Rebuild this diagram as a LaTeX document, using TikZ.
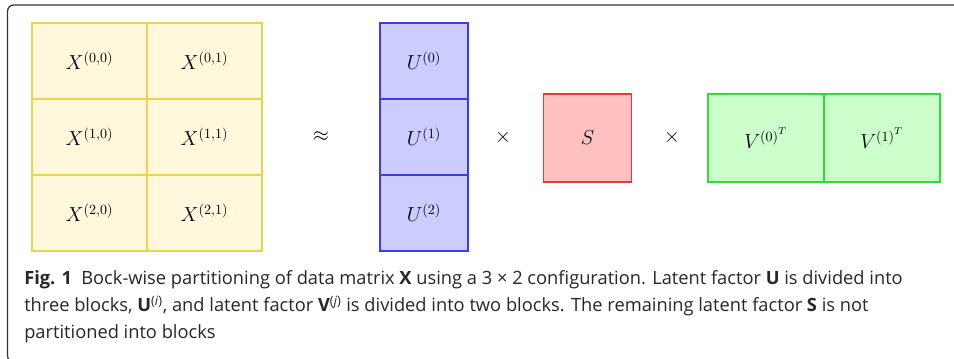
\documentclass[tikz,border=0pt]{standalone}
\usepackage{xcolor}
\definecolor{xfill}{RGB}{255,248,220}
\definecolor{xline}{RGB}{232,212,80}
\definecolor{ufill}{RGB}{204,204,255}
\definecolor{uline}{RGB}{60,60,230}
\definecolor{sfill}{RGB}{255,192,192}
\definecolor{sline}{RGB}{225,60,60}
\definecolor{vfill}{RGB}{204,255,204}
\definecolor{vline}{RGB}{50,220,50}
\definecolor{framegray}{RGB}{50,50,50}
\definecolor{captext}{RGB}{40,38,38}
\usepackage[no-math]{fontspec}
\newfontfamily\capfont{Open Sans}
\usepackage{tikz}
\usepackage{amsmath}

\begin{document}
\begin{tikzpicture}[every node/.style={font=\fontsize{14}{17}\selectfont},
  cell/.style={draw, line width=1.2pt, inner sep=0pt},
  xcell/.style={cell, draw=xline, fill=xfill, minimum width=2.875cm, minimum height=1.9cm},
  ucell/.style={cell, draw=uline, fill=ufill, minimum width=2.2cm, minimum height=1.9cm},
  scell/.style={cell, draw=sline, fill=sfill, minimum width=2.2cm, minimum height=2.2cm},
  vcell/.style={cell, draw=vline, fill=vfill, minimum width=2.9cm, minimum height=2.2cm},
  caption/.style={anchor=base west, text=captext, font=\capfont\fontsize{13}{15}\selectfont, inner sep=0pt}]
  \useasboundingbox (0,0) rectangle (23.85,8.95);

  % Figure frame
  \begin{scope}
    \clip (0,0) rectangle (23.85,8.95);
    \draw[line width=0.9pt, draw=framegray, rounded corners=0.15cm] (0.19,-0.1) rectangle (26,8.825);
  \end{scope}

  % Data matrix X
  \node[xcell] (x00) at (2.2375,7.425) {$X^{(0,0)}$};
  \node[xcell] (x01) at (5.1125,7.425) {$X^{(0,1)}$};
  \node[xcell] (x10) at (2.2375,5.525) {$X^{(1,0)}$};
  \node[xcell] (x11) at (5.1125,5.525) {$X^{(1,1)}$};
  \node[xcell] (x20) at (2.2375,3.625) {$X^{(2,0)}$};
  \node[xcell] (x21) at (5.1125,3.625) {$X^{(2,1)}$};

  \node (approx) at (8.025,5.525) {$\approx$};

  % Latent factor U
  \node[ucell] (u0) at (10.6,7.425) {$U^{(0)}$};
  \node[ucell] (u1) at (10.6,5.525) {$U^{(1)}$};
  \node[ucell] (u2) at (10.6,3.625) {$U^{(2)}$};

  \node (times1) at (12.575,5.525) {$\times$};

  % Latent factor S
  \node[scell] (s) at (14.69,5.5) {$S$};

  \node (times2) at (16.8,5.525) {$\times$};

  % Latent factor V
  \node[vcell] (v0) at (19.15,5.5) {$V^{{(0)}^T}$};
  \node[vcell] (v1) at (22.05,5.5) {$V^{{(1)}^T}$};

  % Caption
  \node[caption] (cap1) at (0.6,1.825) {\textbf{Fig. 1}\hspace{0.5em}Bock-wise partitioning of data matrix \textbf{X} using a 3 × 2 configuration. Latent factor \textbf{U} is divided into};
  \node[caption] (cap2) at (0.6,1.16) {three blocks, \textbf{U}\textsuperscript{(\textit{i})}, and latent factor \textbf{V}\textsuperscript{(\textit{j})} is divided into two blocks. The remaining latent factor \textbf{S} is not};
  \node[caption] (cap3) at (0.6,0.5) {partitioned into blocks};
\end{tikzpicture}
\end{document}
